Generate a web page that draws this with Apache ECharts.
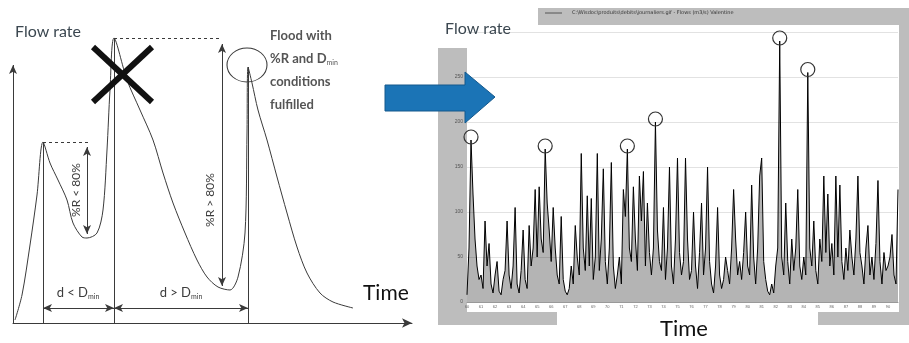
<!DOCTYPE html>
<html>
<head>
<meta charset="utf-8">
<script src="https://cdn.jsdelivr.net/npm/echarts@6/dist/echarts.min.js"></script>
<style>
html, body { margin: 0; padding: 0; background: #fff; }
#main { width: 909px; height: 343px; }
</style>
</head>
<body>
<div id="main"></div>
<script>
// schematic hydrograph (left panel)
var hydT = [2, 9, 17, 24, 30, 37, 45, 54, 60, 69, 74, 84, 90, 94, 97, 101,
	114, 127, 140, 150, 160, 172, 184, 194, 205, 217, 225, 232, 234, 235,
	239, 245, 254, 264, 274, 284, 294, 307, 320, 340];
var hydQ = [3, 28, 78, 128, 181, 160, 143, 123, 100, 86, 85, 90, 113, 173, 233, 285,
	243, 213, 183, 150, 120, 90, 63, 46, 36, 33, 46, 90, 190, 256,
	240, 213, 183, 146, 110, 76, 50, 30, 21, 15];

// recorded daily flows (right panel)
var flows = [
	8, 60, 180, 120, 70, 40, 25, 30, 15, 90,
	40, 65, 20, 10, 30, 45, 12, 8, 25, 35,
	90, 30, 15, 40, 105, 20, 10, 35, 80, 25,
	15, 85, 40, 60, 125, 50, 128, 70, 55, 170,
	110, 80, 45, 105, 60, 30, 20, 95, 25, 12,
	8, 15, 40, 20, 85, 50, 30, 165, 60, 35,
	118, 40, 115, 25, 50, 165, 35, 70, 148, 45,
	20, 60, 155, 40, 15, 30, 50, 20, 125, 95,
	170, 60, 45, 128, 70, 35, 140, 90, 145, 40,
	110, 55, 30, 60, 200, 80, 45, 35, 105, 25,
	60, 150, 40, 20, 70, 160, 55, 30, 45, 160,
	70, 25, 35, 100, 40, 15, 55, 110, 30, 60,
	150, 45, 20, 10, 40, 105, 30, 15, 25, 50,
	35, 20, 60, 125, 70, 30, 45, 25, 55, 100,
	40, 30, 130, 50, 20, 60, 140, 160, 45, 25,
	12, 8, 20, 10, 40, 60, 290, 50, 30, 110,
	45, 20, 70, 35, 60, 125, 40, 25, 50, 30,
	255, 60, 40, 90, 35, 20, 70, 45, 140, 55,
	120, 40, 65, 30, 140, 50, 130, 45, 25, 60,
	35, 80, 50, 30, 70, 140, 55, 40, 20, 60,
	85, 30, 50, 25, 65, 135, 45, 20, 55, 35,
	40, 50, 75, 30, 20, 125
];
var floodIdx = [2, 39, 80, 94, 156, 170];
var yearLabels = ['60', '61', '62', '63', '64', '65', '66', '67', '68', '69', '70', '71', '72', '73', '74', '75',
	'76', '77', '78', '79', '80', '81', '82', '83', '84', '85', '86', '87', '88', '89', '90'];

var days = flows.map(function (v, i) { return i; });
var hydData = hydT.map(function (t, i) { return [t, hydQ[i]]; });

var myChart = echarts.init(document.getElementById('main'));

var ink = '#3a3a3a';

function seg(a, b, style, symA, symB) {
	return [
		{ coord: a, symbol: symA || 'none', symbolSize: [6, 9], lineStyle: style },
		{ coord: b, symbol: symB || 'none', symbolSize: [6, 9] }
	];
}
function txt(c, text, rot, size, rich) {
	return {
		coord: c, symbol: 'circle', symbolSize: 1, itemStyle: { color: 'rgba(0,0,0,0)' },
		label: { show: true, formatter: text, rotate: rot, fontSize: size, color: '#3c3c3c', fontFamily: 'Lato', position: 'inside', rich: rich }
	};
}

var solid = { color: ink, width: 1, type: 'solid' };
var dashed = { color: ink, width: 1, type: [3, 3] };
var cross = { color: '#111', width: 6, type: 'solid', cap: 'butt' };
var sub = { s: { fontSize: 7, color: '#3c3c3c', fontFamily: 'Lato', padding: [7, 0, 0, 0] } };

var option = {
	animation: false,
	grid: [
		{ left: 13, top: 23, width: 399, height: 300 },
		{ left: 467, right: 11, top: 32, bottom: 41 }
	],
	xAxis: [{
		gridIndex: 0, type: 'value', min: 0, max: 399,
		axisLine: { lineStyle: { color: ink, width: 1 }, symbol: ['none', 'arrow'], symbolSize: [7, 10] },
		axisTick: { show: false }, axisLabel: { show: false }, splitLine: { show: false }
	}, {
		gridIndex: 1, type: 'category', data: days, boundaryGap: false,
		axisLine: { lineStyle: { color: '#999', width: 1 } },
		axisTick: { show: false },
		axisLabel: {
			interval: 6, fontSize: 4, color: '#666', margin: 3,
			formatter: function (v, i) { return yearLabels[i / 7] || ''; }
		},
		splitLine: { show: false }
	}],
	yAxis: [{
		gridIndex: 0, type: 'value', min: 0, max: 300,
		axisLine: { show: false }, axisTick: { show: false }, axisLabel: { show: false }, splitLine: { show: false }
	}, {
		gridIndex: 1, type: 'value', min: 0, max: 300, interval: 50,
		axisLine: { show: false }, axisTick: { show: false },
		axisLabel: { fontSize: 5, color: '#555', margin: 4, showMaxLabel: false },
		splitLine: { lineStyle: { color: '#e2e2e2', width: 1 } }
	}],
	graphic: [
		// grey window frame of the right picture
		{ type: 'rect', shape: { x: 438, y: 48, width: 29, height: 277 }, style: { fill: '#bdbdbd' }, z: 0 },
		{ type: 'rect', shape: { x: 538, y: 8, width: 371, height: 17 }, style: { fill: '#bdbdbd' }, z: 0 },
		{ type: 'rect', shape: { x: 899, y: 8, width: 10, height: 317 }, style: { fill: '#bdbdbd' }, z: 0 },
		{ type: 'rect', shape: { x: 438, y: 312, width: 119, height: 13 }, style: { fill: '#bdbdbd' }, z: 0 },
		{ type: 'rect', shape: { x: 818, y: 312, width: 91, height: 13 }, style: { fill: '#bdbdbd' }, z: 0 },
		{ type: 'line', shape: { x1: 545, y1: 13, x2: 562, y2: 13 }, style: { stroke: '#555', lineWidth: 1 }, z: 1 },
		{ type: 'text', x: 572, y: 10, style: { text: 'C:\\Wisdoc\\produits\\debits\\journaliers.gif - Flows (m3/s) Valentine', fontSize: 5, fill: '#333', fontFamily: 'DejaVu Sans' }, z: 1 },
		// blue arrow
		{ type: 'polygon', shape: { points: [[385, 85], [465, 85], [465, 72], [495, 97], [465, 123], [465, 111], [385, 111]] },
			style: { fill: '#1b74b6', stroke: '#15598c', lineWidth: 1 }, z: 10 },
		// titles
		{ type: 'text', x: 15, y: 24, style: { text: 'Flow rate', fontSize: 16, fill: '#3b4750', fontFamily: 'Lato' }, z: 5 },
		{ type: 'text', x: 363, y: 283, style: { text: 'Time', fontSize: 21, fill: '#111', fontFamily: 'Lato' }, z: 5 },
		{ type: 'text', x: 445, y: 21, style: { text: 'Flow rate', fontSize: 16, fill: '#3b4750', fontFamily: 'Lato' }, z: 5 },
		{ type: 'text', x: 660, y: 318, style: { text: 'Time', fontSize: 22, fill: '#111', fontFamily: 'Lato' }, z: 5 },
		{ type: 'text', x: 270, y: 24, z: 5,
			style: {
				text: 'Flood with\n%R and D{s|min}\nconditions\nfulfilled',
				fontSize: 13, lineHeight: 23, fill: '#555', fontFamily: 'Lato', fontWeight: 'bold',
				rich: { s: { fontSize: 7, fill: '#555', fontFamily: 'Lato', padding: [8, 0, 0, 0] } }
			} }
	],
	series: [{
		type: 'line', xAxisIndex: 0, yAxisIndex: 0,
		data: hydData, smooth: 0.3, symbol: 'none', clip: false,
		lineStyle: { color: ink, width: 1 },
		markLine: {
			silent: true, animation: false, symbol: ['none', 'none'],
			label: { show: false },
			data: [
				seg([0, 0], [0, 258], solid, 'none', 'arrow'),
				seg([30, 0], [30, 181], solid),
				seg([101, 0], [101, 285], solid),
				seg([235, 0], [235, 256], solid),
				seg([30, 181], [76, 181], dashed),
				seg([101, 285], [209, 285], dashed),
				seg([74, 176], [74, 89], solid, 'arrow', 'arrow'),
				seg([209, 279], [209, 37], solid, 'arrow', 'arrow'),
				seg([30, 15], [101, 15], solid, 'arrow', 'arrow'),
				seg([101, 15], [235, 15], solid, 'arrow', 'arrow'),
				seg([80, 276], [139, 221], cross),
				seg([139, 276], [80, 221], cross)
			]
		},
		markPoint: {
			silent: true, animation: false,
			data: [
				{ coord: [234, 258], symbol: 'circle', symbolSize: [40, 34],
					itemStyle: { color: 'rgba(0,0,0,0)', borderColor: ink, borderWidth: 1 }, label: { show: false } },
				txt([63, 133], '%R < 80%', 90, 12),
				txt([197, 123], '%R > 80%', 90, 12),
				txt([65, 30], 'd < D{s|min}', 0, 13, sub),
				txt([168, 30], 'd > D{s|min}', 0, 13, sub)
			]
		}
	}, {
		type: 'line', xAxisIndex: 1, yAxisIndex: 1,
		data: flows, symbol: 'none',
		lineStyle: { color: '#000', width: 1 },
		areaStyle: { color: 'rgba(0,0,0,0.42)' },
		markPoint: {
			silent: true, animation: false,
			symbol: 'circle', symbolSize: 14, symbolOffset: [0, -3],
			itemStyle: { color: 'rgba(255,255,255,0)', borderColor: '#333', borderWidth: 1.2 },
			label: { show: false },
			data: floodIdx.map(function (i) { return { coord: [i, flows[i]] }; })
		}
	}]
};

myChart.setOption(option);
</script>
</body>
</html>
